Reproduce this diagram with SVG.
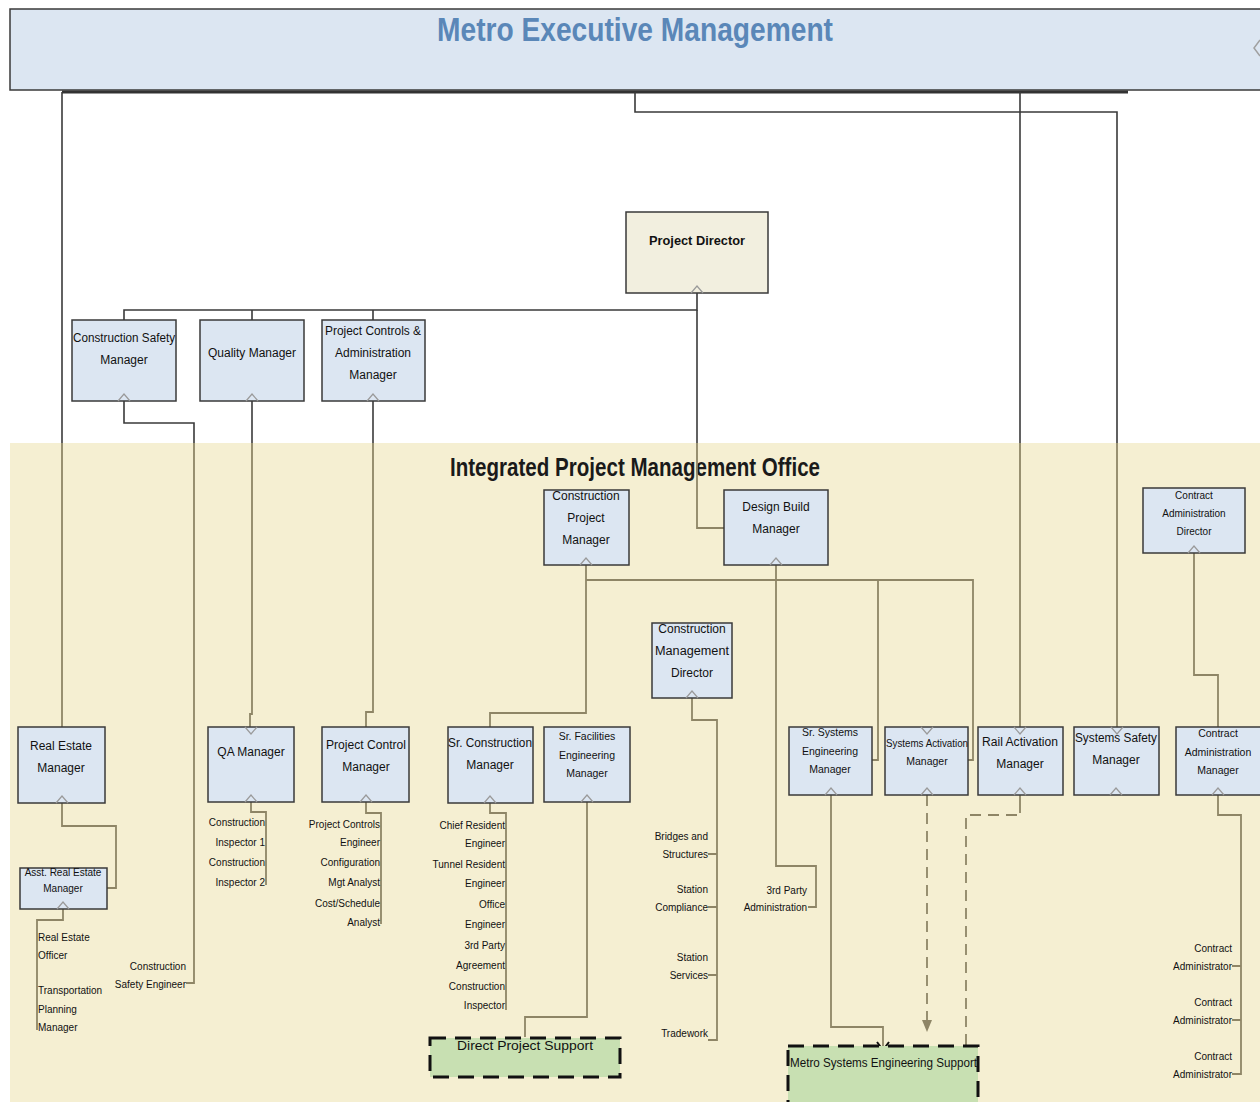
<svg xmlns="http://www.w3.org/2000/svg" width="1260" height="1102" viewBox="0 0 1260 1102">
<style>
.t{font-family:"Liberation Sans",Arial,sans-serif;font-size:12px;fill:#111;text-anchor:middle}
.s{font-size:10px}
.m{font-size:10.5px}
.r{text-anchor:end}
.l{text-anchor:start}
.box{fill:#dce6f2;stroke:#3a3a3a;stroke-width:1.5}
.pd{fill:#f2efdf;stroke:#3a3a3a;stroke-width:1.5}
.grn{fill:#c8e0b2;stroke:#111;stroke-width:3;stroke-dasharray:16 9}
.ln{fill:none;stroke:#3a3a3a;stroke-width:1.6}
.lt{fill:none;stroke:#8e8566;stroke-width:1.8}
.ld{fill:none;stroke:#8e8566;stroke-width:1.8;stroke-dasharray:11 7}
.n{fill:none;stroke:#9a9a9a;stroke-width:1.2}
</style>
<rect x="0" y="0" width="1260" height="1102" fill="#ffffff"/>
<rect x="10" y="443" width="1250" height="659" fill="#f5efd2"/>

<g id="header">
<rect x="10" y="9" width="1262" height="81" fill="#dce6f2" stroke="#3a3a3a" stroke-width="1.5"/>
<text x="635" y="41" class="t" style="font-size:34px;fill:#5a87b8;font-weight:bold" textLength="396" lengthAdjust="spacingAndGlyphs">Metro Executive Management</text>
<polyline points="1260,40 1254,48 1260,56" fill="none" stroke="#a0a0a0" stroke-width="1.5"/>
</g>

<text x="635" y="476" class="t" style="font-size:26px;fill:#1a1a1a;font-weight:bold" textLength="370" lengthAdjust="spacingAndGlyphs">Integrated Project Management Office</text>

<g id="connectors">
<line x1="62" y1="92" x2="1128" y2="92" stroke="#333" stroke-width="3"/>
<path class="ln" d="M62,92 V443"/>
<path class="lt" d="M62,443 V727"/>
<path class="ln" d="M635,92 V112 H1117 V443"/>
<path class="lt" d="M1117,443 V727"/>
<path class="ln" d="M1020,92 V443"/>
<path class="lt" d="M1020,443 V727"/>
<path class="ln" d="M697,293 V310 H124 V320 M252,310 V320 M373,310 V320"/>
<path class="ln" d="M697,310 V443"/>
<path class="lt" d="M697,443 V528 H724"/>
<path class="ln" d="M124,401 V423 H194 V443"/>
<path class="lt" d="M194,443 V983 H186"/>
<path class="ln" d="M252,401 V443"/>
<path class="lt" d="M252,443 V714 H250 V727"/>
<path class="ln" d="M373,401 V443"/>
<path class="lt" d="M373,443 V712 H366 V727"/>
<path class="lt" d="M62,803 V826 H116 V888 H107"/>
<path class="lt" d="M63,909 V920 H37 V1030"/>
<path class="lt" d="M251,802 V812 H266 V885"/>
<path class="lt" d="M366,802 V813 H381 V924"/>
<path class="lt" d="M490,803 V813 H506 V1010"/>
<path class="lt" d="M587,802 V1017 H525 V1037"/>
<path class="lt" d="M586,565 V580 H973 V760 H968 M878,580 V760 H872 M776,565 V580 M586,580 V713 H490 V727"/>
<path class="lt" d="M776,580 V866 H816 V907 H808"/>
<path class="lt" d="M692,698 V720 H717 V1040 H708 M708,854 H717 M708,907 H717 M708,975 H717"/>
<path class="lt" d="M831,795 V1027 H883 V1046"/>
<polyline points="877,1042 883,1050 889,1042" fill="none" stroke="#111" stroke-width="2"/>
<path class="ld" d="M927,795 V1022"/>
<polygon points="922,1020 932,1020 927,1032" fill="#8e8566"/>
<path class="lt" d="M1020,795 V813"/>
<path class="ld" d="M1017,815 H966 V1045"/>
<path class="lt" d="M1194,553 V675 H1218 V727"/>
<path class="lt" d="M1218,795 V815 H1241 V1074 H1232 M1232,966 H1241 M1232,1020 H1241"/>
</g>

<g id="project-director">
<rect x="626" y="212" width="142" height="81" class="pd"/>
<text x="697" y="245" class="t" style="font-weight:bold;font-size:13px" textLength="96" lengthAdjust="spacingAndGlyphs">Project Director</text>
<polyline class="n" points="691,293 697,286 703,293"/>
</g>

<g id="construction-safety-manager">
<rect x="72" y="320" width="104" height="81" class="box"/>
<text x="124" y="342" class="t" textLength="102" lengthAdjust="spacingAndGlyphs">Construction Safety</text>
<text x="124" y="364" class="t">Manager</text>
<polyline class="n" points="118,401 124,394 130,401"/>
</g>
<g id="quality-manager">
<rect x="200" y="320" width="104" height="81" class="box"/>
<text x="252" y="357" class="t" textLength="88" lengthAdjust="spacingAndGlyphs">Quality Manager</text>
<polyline class="n" points="246,401 252,394 258,401"/>
</g>
<g id="project-controls-admin-manager">
<rect x="322" y="320" width="103" height="81" class="box"/>
<text x="373" y="335" class="t" textLength="96" lengthAdjust="spacingAndGlyphs">Project Controls &amp;</text>
<text x="373" y="357" class="t">Administration</text>
<text x="373" y="379" class="t">Manager</text>
<polyline class="n" points="367,401 373,394 379,401"/>
</g>

<g id="construction-project-manager">
<rect x="544" y="490" width="85" height="75" class="box"/>
<text x="586" y="500" class="t">Construction</text>
<text x="586" y="522" class="t">Project</text>
<text x="586" y="544" class="t">Manager</text>
<polyline class="n" points="580,565 586,558 592,565"/>
</g>
<g id="design-build-manager">
<rect x="724" y="490" width="104" height="75" class="box"/>
<text x="776" y="511" class="t">Design Build</text>
<text x="776" y="533" class="t">Manager</text>
<polyline class="n" points="770,565 776,558 782,565"/>
</g>
<g id="contract-administration-director">
<rect x="1143" y="488" width="102" height="65" class="box"/>
<text x="1194" y="499" class="t s">Contract</text>
<text x="1194" y="517" class="t s">Administration</text>
<text x="1194" y="535" class="t s">Director</text>
<polyline class="n" points="1188,553 1194,546 1200,553"/>
</g>
<g id="construction-management-director">
<rect x="652" y="623" width="80" height="75" class="box"/>
<text x="692" y="633" class="t">Construction</text>
<text x="692" y="655" class="t" textLength="74" lengthAdjust="spacingAndGlyphs">Management</text>
<text x="692" y="677" class="t">Director</text>
<polyline class="n" points="686,698 692,691 698,698"/>
</g>

<g id="real-estate-manager">
<rect x="18" y="727" width="87" height="76" class="box"/>
<text x="61" y="750" class="t">Real Estate</text>
<text x="61" y="772" class="t">Manager</text>
<polyline class="n" points="56,803 62,796 68,803"/>
</g>
<g id="asst-real-estate-manager">
<rect x="20" y="868" width="87" height="41" class="box"/>
<text x="63" y="876" class="t s">Asst. Real Estate</text>
<text x="63" y="892" class="t s">Manager</text>
<polyline class="n" points="57,909 63,902 69,909"/>
</g>
<g id="qa-manager">
<rect x="208" y="727" width="86" height="75" class="box"/>
<text x="251" y="756" class="t">QA Manager</text>
<polyline class="n" points="245,727 251,734 257,727"/>
<polyline class="n" points="245,802 251,795 257,802"/>
</g>
<g id="project-control-manager">
<rect x="322" y="727" width="87" height="75" class="box"/>
<text x="366" y="749" class="t" textLength="80" lengthAdjust="spacingAndGlyphs">Project Control</text>
<text x="366" y="771" class="t">Manager</text>
<polyline class="n" points="360,802 366,795 372,802"/>
</g>
<g id="sr-construction-manager">
<rect x="448" y="727" width="85" height="76" class="box"/>
<text x="490" y="747" class="t" textLength="84" lengthAdjust="spacingAndGlyphs">Sr. Construction</text>
<text x="490" y="769" class="t">Manager</text>
<polyline class="n" points="484,803 490,796 496,803"/>
</g>
<g id="sr-facilities-engineering-manager">
<rect x="544" y="727" width="86" height="75" class="box"/>
<text x="587" y="740" class="t m">Sr. Facilities</text>
<text x="587" y="759" class="t m">Engineering</text>
<text x="587" y="777" class="t m">Manager</text>
<polyline class="n" points="581,802 587,795 593,802"/>
</g>
<g id="sr-systems-engineering-manager">
<rect x="789" y="727" width="83" height="68" class="box"/>
<text x="830" y="736" class="t m">Sr. Systems</text>
<text x="830" y="755" class="t m">Engineering</text>
<text x="830" y="773" class="t m">Manager</text>
<polyline class="n" points="825,795 831,788 837,795"/>
</g>
<g id="systems-activation-manager">
<rect x="885" y="727" width="83" height="68" class="box"/>
<text x="927" y="747" class="t m" textLength="82" lengthAdjust="spacingAndGlyphs">Systems Activation</text>
<text x="927" y="765" class="t m">Manager</text>
<polyline class="n" points="921,727 927,734 933,727"/>
<polyline class="n" points="921,795 927,788 933,795"/>
</g>
<g id="rail-activation-manager">
<rect x="978" y="727" width="85" height="68" class="box"/>
<text x="1020" y="746" class="t" textLength="76" lengthAdjust="spacingAndGlyphs">Rail Activation</text>
<text x="1020" y="768" class="t">Manager</text>
<polyline class="n" points="1014,727 1020,734 1026,727"/>
<polyline class="n" points="1014,795 1020,788 1026,795"/>
</g>
<g id="systems-safety-manager">
<rect x="1074" y="727" width="85" height="68" class="box"/>
<text x="1116" y="742" class="t" textLength="82" lengthAdjust="spacingAndGlyphs">Systems Safety</text>
<text x="1116" y="764" class="t">Manager</text>
<polyline class="n" points="1111,727 1117,734 1123,727"/>
<polyline class="n" points="1110,795 1116,788 1122,795"/>
</g>
<g id="contract-administration-manager">
<rect x="1176" y="727" width="86" height="68" class="box"/>
<text x="1218" y="737" class="t m">Contract</text>
<text x="1218" y="756" class="t m">Administration</text>
<text x="1218" y="774" class="t m">Manager</text>
<polyline class="n" points="1212,795 1218,788 1224,795"/>
</g>

<g id="direct-project-support">
<rect x="430" y="1038" width="190" height="39" class="grn"/>
<text x="525" y="1050" class="t" style="font-size:13px" textLength="136" lengthAdjust="spacingAndGlyphs">Direct Project Support</text>
</g>
<g id="metro-systems-engineering-support">
<rect x="788" y="1046" width="190" height="70" class="grn"/>
<text x="790" y="1067" class="t l" style="font-size:13px" textLength="187" lengthAdjust="spacingAndGlyphs">Metro Systems Engineering Support</text>
</g>

<g id="labels">
<text x="186" y="970" class="t s r">Construction</text>
<text x="186" y="988" class="t s r">Safety Engineer</text>
<text x="38" y="941" class="t s l">Real Estate</text>
<text x="38" y="959" class="t s l">Officer</text>
<text x="38" y="994" class="t s l">Transportation</text>
<text x="38" y="1013" class="t s l">Planning</text>
<text x="38" y="1031" class="t s l">Manager</text>
<text x="265" y="826" class="t s r">Construction</text>
<text x="265" y="846" class="t s r">Inspector 1</text>
<text x="265" y="866" class="t s r">Construction</text>
<text x="265" y="886" class="t s r">Inspector 2</text>
<text x="380" y="828" class="t s r">Project Controls</text>
<text x="380" y="846" class="t s r">Engineer</text>
<text x="380" y="866" class="t s r">Configuration</text>
<text x="380" y="886" class="t s r">Mgt Analyst</text>
<text x="380" y="907" class="t s r">Cost/Schedule</text>
<text x="380" y="926" class="t s r">Analyst</text>
<text x="505" y="829" class="t s r">Chief Resident</text>
<text x="505" y="847" class="t s r">Engineer</text>
<text x="505" y="868" class="t s r">Tunnel Resident</text>
<text x="505" y="887" class="t s r">Engineer</text>
<text x="505" y="908" class="t s r">Office</text>
<text x="505" y="928" class="t s r">Engineer</text>
<text x="505" y="949" class="t s r">3rd Party</text>
<text x="505" y="969" class="t s r">Agreement</text>
<text x="505" y="990" class="t s r">Construction</text>
<text x="505" y="1009" class="t s r">Inspector</text>
<text x="708" y="840" class="t s r">Bridges and</text>
<text x="708" y="858" class="t s r">Structures</text>
<text x="708" y="893" class="t s r">Station</text>
<text x="708" y="911" class="t s r">Compliance</text>
<text x="708" y="961" class="t s r">Station</text>
<text x="708" y="979" class="t s r">Services</text>
<text x="708" y="1037" class="t s r">Tradework</text>
<text x="807" y="894" class="t s r">3rd Party</text>
<text x="807" y="911" class="t s r">Administration</text>
<text x="1232" y="952" class="t s r">Contract</text>
<text x="1232" y="970" class="t s r">Administrator</text>
<text x="1232" y="1006" class="t s r">Contract</text>
<text x="1232" y="1024" class="t s r">Administrator</text>
<text x="1232" y="1060" class="t s r">Contract</text>
<text x="1232" y="1078" class="t s r">Administrator</text>
</g>
</svg>
